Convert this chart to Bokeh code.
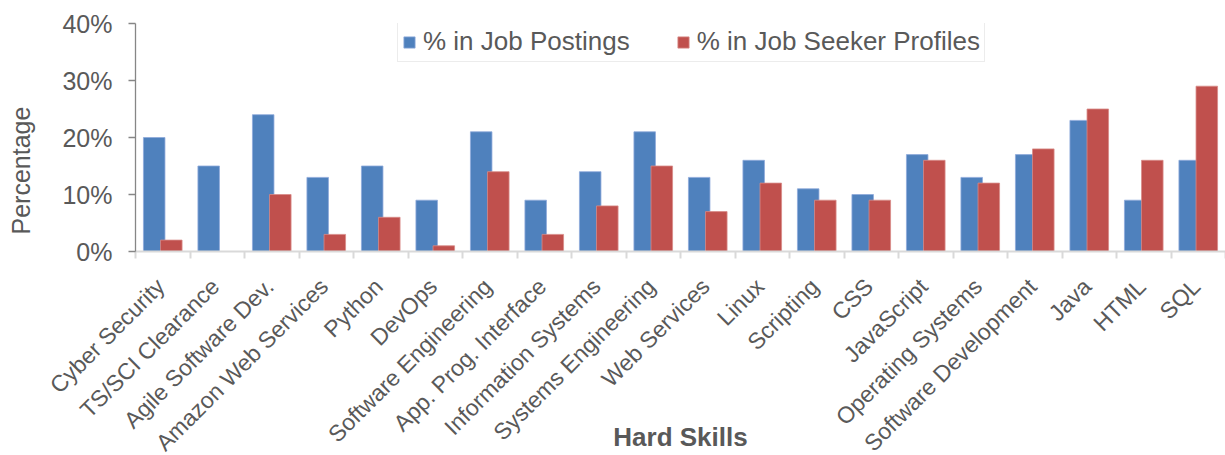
import numpy as np
from bokeh.plotting import figure
from bokeh.models import (Range1d, FixedTicker, NumeralTickFormatter, Legend, LegendItem, Title,
                          LinearAxis)
from bokeh.embed import file_html
from bokeh.resources import INLINE

categories = ["Cyber Security", "TS/SCI Clearance", "Agile Software Dev.", "Amazon Web Services",
              "Python", "DevOps", "Software Engineering", "App. Prog. Interface",
              "Information Systems", "Systems Engineering", "Web Services", "Linux",
              "Scripting", "CSS", "JavaScript", "Operating Systems", "Software Development",
              "Java", "HTML", "SQL"]
job_postings = [20, 15, 24, 13, 15, 9, 21, 9, 14, 21, 13, 16, 11, 10, 17, 13, 17, 23, 9, 16]
job_seekers = [2, 0, 10, 3, 6, 1, 14, 3, 8, 15, 7, 12, 9, 9, 16, 12, 18, 25, 16, 29]
y_ticks = [0, 10, 20, 30, 40]
series_names = ["% in Job Postings", "% in Job Seeker Profiles"]

BLUE = "#4F81BD"
RED = "#C0504D"
TXT = "#595959"
FONT = "Liberation Sans"

n = len(categories)
idx = np.arange(n)
post = np.array(job_postings) / 100.0
seek = np.array(job_seekers) / 100.0

p = figure(width=1225, height=455, output_backend="svg", toolbar_location=None,
           x_range=Range1d(0, n), y_range=Range1d(0, y_ticks[-1] / 100.0),
           min_border_left=135, min_border_top=23, min_border_right=0, min_border_bottom=203)
p.outline_line_color = None
p.xgrid.visible = False
p.ygrid.visible = False
p.background_fill_color = "white"
p.border_fill_color = "white"

bw = 0.395
r1 = p.vbar(x=idx + 0.343, top=post, width=bw, fill_color=BLUE, line_color="#8EAADB", line_width=0.8)
r2 = p.vbar(x=idx + 0.657, top=seek, width=bw, fill_color=RED, line_color="#D88A88", line_width=0.8)

# x axis
lab_shift = -0.04
xa = p.xaxis[0]
xa.ticker = FixedTicker(ticks=list(idx + 0.5 + lab_shift), minor_ticks=list(range(n + 1)))
xa.major_label_overrides = {float(i + 0.5 + lab_shift): c for i, c in enumerate(categories)}
xa.major_label_orientation = np.pi / 4
xa.major_label_text_font = FONT
xa.major_label_text_font_size = "23px"
xa.major_label_text_color = TXT
xa.major_label_standoff = 24
xa.major_tick_line_color = None
xa.major_tick_out = 6
xa.major_tick_in = 0
xa.minor_tick_line_color = "#D9D9D9"
xa.minor_tick_line_width = 2
xa.minor_tick_out = 7
xa.minor_tick_in = 0
xa.axis_line_color = "#D9D9D9"
xa.axis_line_width = 2
xa.axis_label = "Hard Skills"
xa.axis_label_text_font = FONT
xa.axis_label_text_font_size = "26px"
xa.axis_label_text_font_style = "bold"
xa.axis_label_text_color = TXT
xa.axis_label_standoff = -46

# y axis
ya = p.yaxis[0]
ya.ticker = FixedTicker(ticks=[t / 100.0 for t in y_ticks])
ya.formatter = NumeralTickFormatter(format="0%")
ya.major_label_text_font = FONT
ya.major_label_text_font_size = "25px"
ya.major_label_text_color = TXT
ya.major_label_standoff = 16
ya.major_tick_out = 7
ya.major_tick_in = 0
ya.major_tick_line_color = "#868686"
ya.major_tick_line_width = 1.3
ya.minor_tick_line_color = None
ya.axis_line_color = "#868686"
ya.axis_line_width = 1.3

# unlabelled spacer axis between the tick labels and the y title
spacer = LinearAxis(ticker=FixedTicker(ticks=[0.0]), axis_line_color=None,
                    major_tick_line_color=None, minor_tick_line_color=None,
                    major_tick_out=21, major_tick_in=0, minor_tick_out=0,
                    major_label_standoff=0, major_label_overrides={0.0: ""},
                    major_label_text_font_size="1px")
p.add_layout(spacer, "left")

ytitle = Title(text="Percentage", align="left", offset=17, vertical_align="bottom",
               standoff=8, text_font=FONT, text_font_size="25px",
               text_font_style="normal", text_color=TXT)
p.add_layout(ytitle, "left")

legend = Legend(items=[LegendItem(label=series_names[0], renderers=[r1]),
                       LegendItem(label=series_names[1], renderers=[r2])],
                orientation="horizontal", location="top_left",
                label_text_font=FONT, label_text_font_size="26px", label_text_color=TXT,
                glyph_width=14, glyph_height=14, label_standoff=7, spacing=46,
                padding=4, margin=0, border_line_color="#D9D9D9", border_line_width=1.5,
                background_fill_color="white", background_fill_alpha=1.0)
legend.location = (262, 189)
p.add_layout(legend)

open("out.html", "w").write(file_html(p, INLINE))
